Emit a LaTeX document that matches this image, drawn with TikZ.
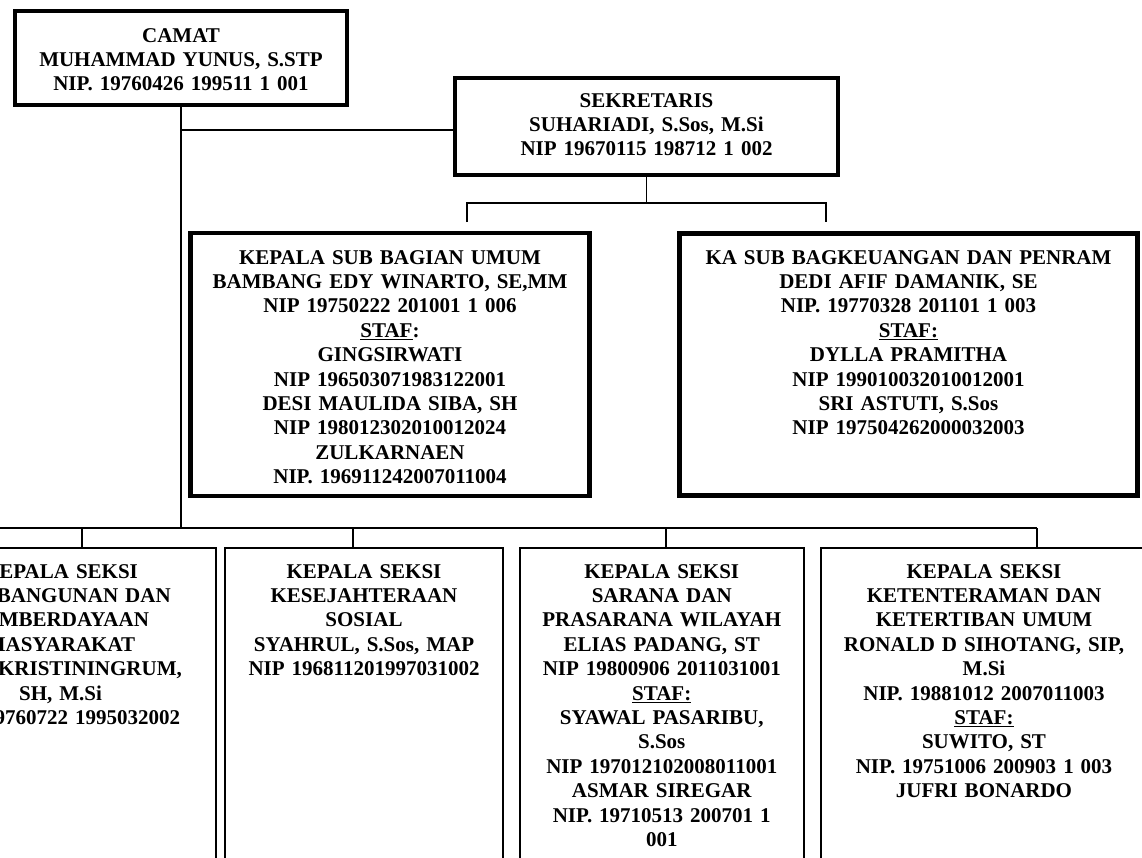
\documentclass[tikz,border=0pt]{standalone}
\usepackage{fontspec}
\setmainfont{Liberation Serif}
\usepackage{tikz}

\tikzset{
  kotak/.style={draw, anchor=north west, align=center, inner sep=0pt, outer sep=0pt,
    font=\bfseries\fontsize{21}{24.4}\selectfont},
  pimpinan/.style={kotak, line width=4.5pt},
  seksi/.style={kotak, line width=2pt, text height=30pt, text depth=302pt},
  garis/.style={line width=1.8pt}
}

\begin{document}
\begin{tikzpicture}[x=1pt,y=-1pt]
\useasboundingbox (0,0) rectangle (1142,857);
\clip (0,0) rectangle (1142,857);
% nodes
\node[pimpinan, text width=332pt, text height=31pt, text depth=63pt] (camat) at (15,11)
  {CAMAT\\MUHAMMAD YUNUS, S.STP\\NIP. 19760426 199511 1 001};
\node[pimpinan, text width=383pt, text height=29pt, text depth=68pt] (sek) at (455,78)
  {SEKRETARIS\\SUHARIADI, S.Sos, M.Si\\NIP 19670115 198712 1 002};
\node[pimpinan, text width=399pt, text height=31pt, text depth=232pt] (umum) at (190.5,233)
  {KEPALA SUB BAGIAN UMUM\\BAMBANG EDY WINARTO, SE,MM\\NIP 19750222 201001 1 006\\
   \underline{STAF}:\\GINGSIRWATI\\NIP 196503071983122001\\DESI MAULIDA SIBA, SH\\
   NIP 198012302010012024\\ZULKARNAEN\\NIP. 196911242007011004};
\node[pimpinan, text width=458pt, text height=30.5pt, text depth=231.5pt] (keu) at (679.5,233.5)
  {KA SUB BAGKEUANGAN DAN PENRAM\\DEDI AFIF DAMANIK, SE\\NIP. 19770328 201101 1 003\\
   \underline{STAF:}\\DYLLA PRAMITHA\\NIP 199010032010012001\\SRI ASTUTI, S.Sos\\
   NIP 197504262000032003};
\node[seksi, text width=311pt] (b1) at (-95,548)
  {KEPALA SEKSI\\PEMBANGUNAN DAN\\PEMBERDAYAAN\\MASYARAKAT\\
   \hspace*{59pt}KRISTININGRUM,\\SH, M.Si\\NIP 19760722 1995032002};
\node[seksi, text width=278pt] (b2) at (225,548)
  {KEPALA SEKSI\\KESEJAHTERAAN\\SOSIAL\\SYAHRUL, S.Sos, MAP\\NIP 196811201997031002};
\node[seksi, text width=284.5pt] (b3) at (519.5,548)
  {KEPALA SEKSI\\SARANA DAN\\PRASARANA WILAYAH\\ELIAS PADANG, ST\\NIP 19800906 2011031001\\
   \underline{STAF:}\\SYAWAL PASARIBU,\\S.Sos\\NIP 197012102008011001\\ASMAR SIREGAR\\
   NIP. 19710513 200701 1\\001};
\node[seksi, text width=326pt] (b4) at (821,548)
  {KEPALA SEKSI\\KETENTERAMAN DAN\\KETERTIBAN UMUM\\RONALD D SIHOTANG, SIP,\\M.Si\\
   NIP. 19881012 2007011003\\\underline{STAF:}\\SUWITO, ST\\NIP. 19751006 200903 1 003\\
   JUFRI BONARDO};

\coordinate (jS) at (180,130);
\coordinate (kL) at (467,222);
\coordinate (kR) at (826,222);
\coordinate (busW) at (-10,528);
\coordinate (t1) at (82,528);
\coordinate (t2) at (353,528);
\coordinate (t3) at (666,528);
\coordinate (t4) at (1037,528);

% edges
\draw[garis] (camat.south) -- (camat.south |- t1);
\draw[garis] (camat.south |- jS) -- (sek.west |- jS);
\draw[garis] (sek.south) -- ++(0,28);
\draw[garis] (kL) -- ++(0,-19) -| (kR);
\draw[garis] (busW) -- (t4);
\foreach \i in {1,...,4}
  \draw[garis] (t\i) -- (t\i |- b\i.north);
\end{tikzpicture}
\end{document}
